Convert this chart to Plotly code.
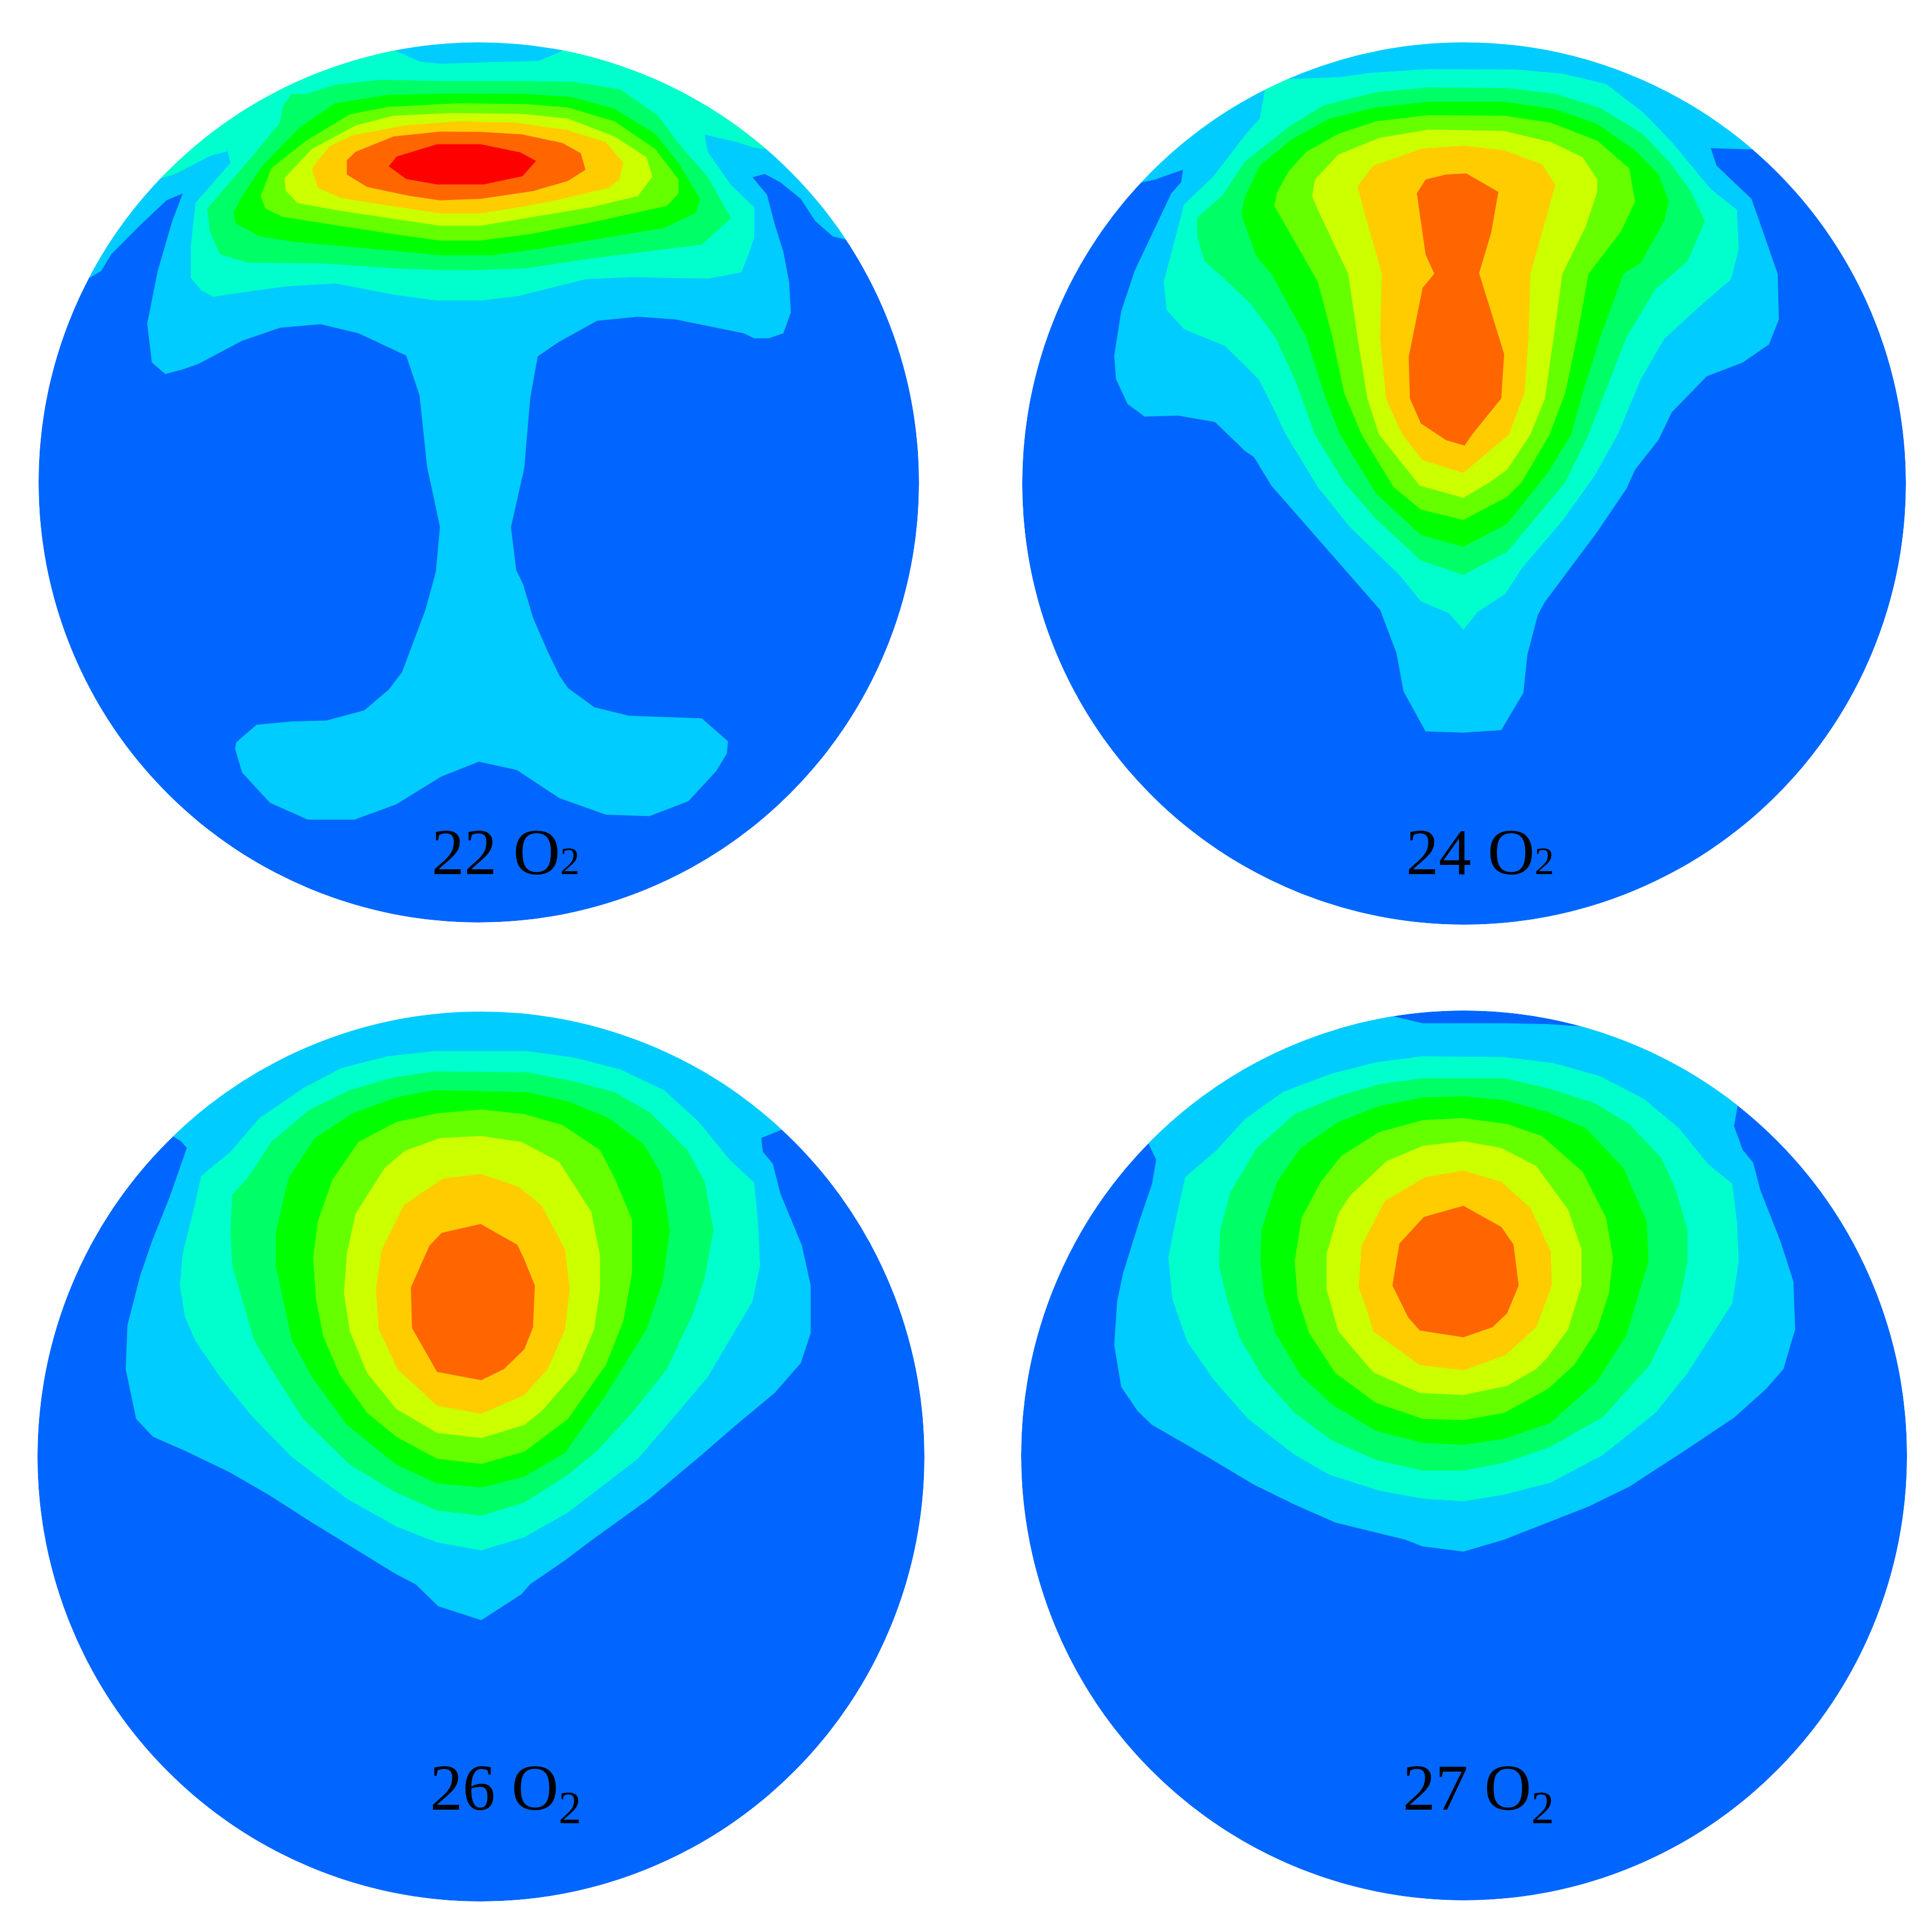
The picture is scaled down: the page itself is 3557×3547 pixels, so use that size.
import plotly.graph_objects as go

# contour outlines were read off zoomed crops of the source figure,
# each crop is (left, top, width, height) on the page and shown 1568 x 1568
CROP_A = (60, 60, 1680, 800)
CROP_B = (60, 800, 1680, 920)
CROP_C = (1880, 60, 1680, 800)
CROP_D = (1880, 800, 1680, 920)
CROP_E = (60, 1860, 1680, 1150)
CROP_F = (1880, 1860, 1680, 1150)

LEVEL_COLORS = ["#00CCFF", "#00FFCC", "#00FF66", "#00FF00", "#66FF00",
                "#CCFF00", "#FFCC00", "#FF6600", "#FF0000"]
BASE_COLOR = "#0066FF"

# disc extents per panel: left, top, right, bottom
DISCS = [(71, 78, 1692, 1698), (1882, 78, 3509, 1702),
         (69, 1862, 1702, 3500), (1880, 1860, 3511, 3498)]
RIM_SNAP = 8    # vertices this close to the rim were read on the rim
RIM_PUSH = 14   # pushed past it, the white ring trims them
RING_WIDTH = 60

LABELS = ["22 O<span style='font-size:72px'>2</span>",
          "24 O<span style='font-size:72px'>2</span>",
          "26 O<sub>2</sub>", "27 O<sub>2</sub>"]
LABEL_X = [931, 2725, 931, 2722]
LABEL_Y = [1579, 1579, 3301, 3301]

# 22 O2
p22_l1_top = [(88,925),(130,770),(175,640),(210,555),(240,490),(300,385),(365,275),(440,190),(520,125),(605,72),
              (690,42),(765,35),(850,42),(930,72),(1020,125),(1095,190),(1170,275),(1240,380),(1290,480),(1355,630),
              (1405,772),(1375,735),(1345,680),(1320,600),(1285,540),(1258,510),(1237,522),(1262,585),(1275,690),(1290,790),
              (1300,900),(1303,1010),(1290,1085),(1265,1103),(1240,1103),(1222,1085),(1105,1035),(1040,1025),(970,1040),
              (905,1115),(868,1168),(855,1320),(845,1568)]
p22_l1_stem = [(843,120),(822,290),(831,425),(843,470),(860,575),(885,680),(905,755),(920,795),(965,855),(1025,882),
               (1150,890),(1195,962),(1193,1000),(1175,1055),(1127,1150),(1060,1197),(985,1192),(905,1140),(832,1052),
               (767,1026),(702,1073),(625,1160),(553,1208),(473,1208),(408,1155),(360,1060),(348,985),(350,965),(385,910),
               (445,900),(505,897),(570,865),(612,800),(635,745),(675,550),(693,430),(700,290),(685,160)]
p22_l1_back = [(678,1568),(665,1310),(642,1165),(560,1085),(495,1052),(425,1065),(360,1112),(285,1195),(258,1215),
               (228,1232),(205,1190),(197,1050),(215,860),(240,680),(258,580),(230,605),(185,695),(135,800),(118,860)]
p22_l2 = [(205,560),(240,490),(300,385),(365,275),(440,190),(520,125),(605,72),(665,105),(700,112),(870,102),(930,72),
          (1020,125),(1095,190),(1170,275),(1240,380),(1272,450),(1240,415),(1210,395),(1155,368),(1160,430),(1200,550),
          (1240,630),(1240,740),(1230,800),(1218,865),(1160,888),(1030,882),(950,890),(835,950),(770,967),(695,967),
          (620,945),(520,905),(440,915),(385,930),(310,953),(290,930),(272,885),(272,770),(280,615),(340,470),(335,428),
          (305,445),(245,510)]
p22_l3 = [(445,222),(470,222),(520,188),(600,170),(700,175),(850,175),(930,178),(1010,205),(1075,300),(1110,400),
          (1160,520),(1200,670),(1150,765),(1055,790),(960,815),(850,850),(760,857),(700,857),(620,850),(500,833),
          (370,830),(322,800),(305,720),(300,635),(380,440),(425,325),(430,265)]
p22_l4 = [(520,255),(610,225),(730,220),(850,222),(925,232),(1000,275),(1070,365),(1110,470),(1147,600),(1140,650),
          (1085,705),(985,740),(870,780),(790,803),(700,803),(610,785),(450,755),(390,735),(350,690),(345,650),(360,590),
          (395,480),(460,340)]
p22_l5 = [(610,268),(730,255),(850,258),(920,270),(1000,320),(1070,420),(1110,530),(1110,580),(1090,625),(960,685),
          (860,725),(770,750),(700,750),(630,730),(520,695),(430,665),(400,635),(392,590),(410,490),(470,390),(545,295)]
p22_l6 = [(620,300),(720,290),(840,293),(920,310),(1000,375),(1055,450),(1065,520),(1040,590),(960,630),(860,665),
          (770,697),(700,697),(620,672),(520,640),(455,615),(435,570),(433,525),(480,420),(555,335)]
p22_l7 = [(640,335),(730,320),(830,325),(915,350),(985,395),(1015,470),(1008,530),(990,560),(900,605),(850,625),
          (770,652),(700,652),(630,630),(530,597),(490,560),(480,490),(510,410),(550,370)]
p22_l8 = [(620,375),(700,357),(770,358),(840,367),(910,398),(942,435),(950,495),(920,535),(860,572),(770,600),(700,605),
          (650,590),(575,557),(540,512),(540,460),(555,430)]
p22_l9 = [(695,403),(770,403),(838,432),(865,463),(842,518),(775,548),(695,548),(642,528),(612,482),(626,447)]

# 24 O2
p24_l1_top = [(195,572),(240,470),(290,375),(355,283),(430,195),(510,125),(590,75),(680,45),(760,37),(850,45),(930,75),
              (1010,125),(1085,190),(1165,280),(1235,385),(1268,445),(1230,420),(1185,417),(1195,480),(1255,600),
              (1275,720),(1300,870),(1302,1035),(1285,1125),(1240,1190),(1178,1240),(1118,1370),(1095,1470)]
p24_l1_low = [(1055,110),(1040,170),(990,305),(900,525),(888,565),(870,690),(863,810),(825,927),(760,935),(695,931),
              (657,805),(645,685),(617,550),(490,285),(430,160),(400,70)]
p24_l1_back = [(385,1510),(333,1405),(270,1382),(212,1385),(183,1340),(163,1250),(160,1165),(172,1005),(195,860),
               (258,580),(275,540),(278,495),(230,530)]
p24_l2_top = [(430,205),(515,162),(550,160),(600,145),(700,132),(850,133),(930,148),(1005,185),(1070,290),(1120,400),
              (1185,565),(1230,640),(1233,780),(1220,890),(1170,980),(1105,1105),(1065,1250)]
p24_l2_low = [(1025,0),(985,130),(930,270),(860,420),(832,500),(785,555),(760,612),(735,560),(687,523),(650,440),
              (565,290),(510,165),(455,0)]
p24_l2_back = [(430,1340),(408,1250),(350,1130),(280,1070),(250,1000),(245,900),(280,620),(330,520),(385,370),(410,310)]
p24_l3_top = [(302,668),(345,590),(385,465),(460,340),(520,262),(610,215),(700,198),(835,200),(920,222),(995,272),
              (1068,365),(1115,470),(1150,570),(1175,680),(1145,825),(1090,925),(1040,1100),(1005,1290)]
p24_l3_low = [(975,0),(935,150),(880,270),(835,368),(760,440),(687,395),(610,265),(555,150),(505,0)]
p24_l3_back = [(470,1250),(437,1100),(395,980),(340,870),(315,825),(303,740)]
p24_l4_top = [(378,655),(385,590),(410,480),(465,385),(530,310),(610,270),(700,250),(830,250),(915,275),(990,330),
              (1055,425),(1095,510),(1113,610),(1105,680),(1065,830),(1035,870),(995,1100),(965,1300)]
p24_l4_low = [(945,0),(905,120),(835,280),(760,352),(687,315),(610,185),(548,0)]
p24_l4_back = [(520,1300),(490,1100),(430,870),(405,810)]
p24_l5_top = [(435,625),(440,575),(460,500),(490,430),(545,365),(610,320),(700,298),(830,300),(910,325),(990,390),
              (1045,490),(1055,610),(1030,720),(975,870),(955,1100),(935,1300)]
p24_l5_low = [(908,0),(860,150),(835,195),(760,268),(687,235),(640,165),(585,0)]
p24_l5_back = [(555,1300),(535,1100),(510,900),(480,790)]
p24_l6_top = [(500,590),(505,530),(545,440),(615,380),(700,350),(830,355),(910,395),(965,450),(990,530),(990,575),
              (970,700),(930,870),(915,1100),(900,1320)]
p24_l6_low = [(875,0),(835,110),(805,150),(760,198),(685,160),(615,0)]
p24_l6_back = [(595,1320),(578,1100),(562,870),(510,640)]
p24_l7_top = [(578,555),(605,480),(690,418),(760,408),(830,425),(895,475),(918,550),(895,720),(875,870),(872,1100),
              (865,1300)]
p24_l7_low = [(838,0),(760,120),(690,80),(655,0)]
p24_l7_back = [(627,1320),(617,1100),(620,870),(590,650)]
p24_l8 = [(695,530),(730,512),(765,508),(820,575),(808,720),(787,868),(830,1160),(825,1320),(775,1450),(762,1490),
          (730,1470),(687,1410),(668,1320),(666,1170),(690,920),(710,870),(695,800),(680,580)]

# 26 O2
p26_l1 = [(238,318),(295,245),(365,170),(440,112),(520,65),(600,32),(690,10),(735,8),(800,8),(855,10),(940,32),(1020,65),
          (1100,112),(1180,178),(1248,245),(1292,305),(1252,320),(1255,355),(1272,385),(1285,460),(1322,590),(1337,690),
          (1337,810),(1320,885),(1275,960),(1205,1045),(1150,1115),(1060,1225),(960,1330),(915,1380),(855,1440),(840,1465),
          (771,1530),(697,1495),(658,1440),(625,1415),(480,1285),(405,1215),(340,1160),(262,1105),(207,1070),(178,1025),
          (160,900),(163,790),(185,665),(205,580),(235,470),(265,345),(255,328)]
p26_l2 = [(290,415),(340,355),(390,270),(465,195),(530,145),(610,115),(690,102),(850,102),(930,118),(1010,148),(1085,200),
          (1145,280),(1198,375),(1240,432),(1247,540),(1250,640),(1237,730),(1160,920),(1105,1015),(1040,1125),(920,1260),
          (845,1322),(771,1355),(695,1335),(625,1295),(540,1225),(445,1120),(375,1015),(325,925),(280,830),(262,770),
          (253,690),(258,610),(275,510)]
p26_l3 = [(343,462),(370,420),(410,330),(475,250),(545,200),(620,168),(690,153),(850,155),(930,178),(1000,205),(1060,255),
          (1125,350),(1155,430),(1170,550),(1155,670),(1135,760),(1090,900),(1030,1010),(970,1105),(920,1165),(845,1235),
          (771,1268),(695,1255),(625,1210),(545,1140),(465,1025),(410,900),(380,825),(343,640),(340,550)]
p26_l4 = [(418,555),(440,420),(485,320),(550,258),(625,218),(690,200),(850,205),(920,228),(990,270),(1050,335),(1080,410),
          (1095,550),(1083,680),(1055,800),(985,965),(915,1110),(845,1170),(771,1197),(695,1187),(625,1140),(540,1040),
          (480,920),(445,825),(418,640)]
p26_l5 = [(482,620),(490,530),(515,425),(560,330),(625,280),(695,258),(771,248),(845,260),(910,287),(975,350),(1000,420),
          (1030,525),(1030,660),(1015,780),(985,890),(920,1025),(845,1107),(771,1138),(695,1125),(625,1070),(575,1010),
          (528,915),(500,820),(487,725)]
p26_l6 = [(540,610),(555,510),(605,395),(640,352),(700,320),(771,315),(840,330),(905,380),(960,505),(975,615),(975,700),
          (965,800),(935,905),(875,1005),(845,1040),(771,1073),(695,1060),(625,1000),(575,910),(545,805),(535,710)]
p26_l7 = [(590,700),(600,600),(638,488),(705,422),(770,410),(835,442),(875,490),(915,600),(923,700),(915,800),(885,900),
          (845,965),(771,1012),(695,992),(627,900),(595,800)]
p26_l8 = [(650,695),(682,590),(703,558),(770,536),(833,588),(845,625),(863,690),(860,795),(845,850),(810,900),(771,928),
          (695,907),(652,797)]

# 27 O2
p27_l1 = [(220,325),(285,240),(350,175),(430,110),(510,65),(615,34),(690,32),(830,32),(905,34),(1010,65),(1090,115),
          (1165,175),(1225,235),(1225,290),(1240,350),(1258,382),(1270,450),(1305,580),(1327,680),(1330,800),(1310,900),
          (1280,950),(1225,1022),(1140,1105),(1045,1195),(975,1245),(830,1328),(760,1358),(690,1345),(660,1328),(540,1285),
          (470,1240),(400,1190),(320,1120),(225,1040),(200,1005),(172,945),(160,840),(165,730),(175,660),(205,520),(225,435),
          (232,375)]
p27_l2 = [(282,418),(335,352),(385,272),(450,205),(530,160),(610,130),(690,115),(830,117),(915,132),(995,165),(1070,222),
          (1130,295),(1180,385),(1222,435),(1230,530),(1233,630),(1222,735),(1145,910),(1090,1010),(1000,1115),(910,1185),
          (830,1215),(760,1232),(690,1225),(615,1205),(530,1165),(470,1115),(390,1025),(330,925),(285,830),(260,725),
          (253,620),(265,530)]
p27_l3 = [(342,550),(360,455),(405,345),(470,260),(545,215),(615,185),(690,170),(830,170),(905,195),(985,232),(1045,285),
          (1100,370),(1125,450),(1145,550),(1145,630),(1130,740),(1080,890),(1000,1020),(910,1095),(830,1135),(760,1155),
          (690,1155),(610,1128),(535,1080),(470,1010),(415,920),(375,820),(355,730),(340,640)]
p27_l4 = [(413,550),(440,430),(480,345),(545,280),(615,240),(690,218),(760,215),(830,225),(905,255),(970,295),(1035,395),
          (1075,530),(1078,630),(1040,815),(990,930),(910,1035),(830,1075),(760,1090),(690,1085),(610,1055),(535,990),
          (480,915),(437,810),(418,720),(411,630)]
p27_l5 = [(470,630),(482,520),(515,430),(550,365),(615,305),(690,275),(760,270),(835,285),(895,315),(965,405),(1005,520),
          (1017,620),(1010,710),(990,800),(950,890),(905,950),(830,1010),(760,1028),(690,1025),(610,985),(540,910),(495,810),
          (475,720)]
p27_l6 = [(525,610),(545,510),(565,465),(628,378),(690,340),(760,328),(825,345),(885,390),(940,500),(963,600),(963,690),
          (940,800),(905,870),(885,900),(835,942),(760,965),(685,960),(605,908),(545,805),(525,700)]
p27_l7 = [(580,695),(585,590),(625,478),(695,418),(760,402),(825,430),(875,495),(910,605),(912,690),(885,795),(832,865),
          (760,903),(685,890),(605,805),(595,755)]
p27_l8 = [(638,690),(650,585),(692,518),(760,490),(825,543),(846,587),(855,690),(835,760),(810,795),(760,820),(685,803),
          (665,770)]


def from_crop(points, crop):
    left, top, width, height = crop
    return [(left + px * width / 1568, top + py * height / 1568) for px, py in points]


def three_part(top, low, back, crop_top, crop_low):
    return from_crop(top, crop_top) + from_crop(low, crop_low) + from_crop(back, crop_top)


def snap_to_rim(outline, disc):
    """Push vertices read on the rim just outside it so no base colour shows there"""
    x0, y0, x1, y1 = disc
    cx, cy = (x0 + x1) / 2, (y0 + y1) / 2
    radius = (x1 - x0 + y1 - y0) / 4
    snapped = []
    for x, y in outline:
        dist = ((x - cx) ** 2 + (y - cy) ** 2) ** 0.5
        if radius - dist < RIM_SNAP:
            k = (radius + RIM_PUSH) / dist
            x, y = cx + (x - cx) * k, cy + (y - cy) * k
        snapped.append((x, y))
    return snapped


# every panel is a stack of filled levels, lowest first
panel_22 = [three_part(p22_l1_top, p22_l1_stem, p22_l1_back, CROP_A, CROP_B)]
panel_22 += [from_crop(p, CROP_A) for p in (p22_l2, p22_l3, p22_l4, p22_l5, p22_l6, p22_l7, p22_l8, p22_l9)]

panel_24 = [
    three_part(p24_l1_top, p24_l1_low, p24_l1_back, CROP_C, CROP_D),
    three_part(p24_l2_top, p24_l2_low, p24_l2_back, CROP_C, CROP_D),
    three_part(p24_l3_top, p24_l3_low, p24_l3_back, CROP_C, CROP_D),
    three_part(p24_l4_top, p24_l4_low, p24_l4_back, CROP_C, CROP_D),
    three_part(p24_l5_top, p24_l5_low, p24_l5_back, CROP_C, CROP_D),
    three_part(p24_l6_top, p24_l6_low, p24_l6_back, CROP_C, CROP_D),
    three_part(p24_l7_top, p24_l7_low, p24_l7_back, CROP_C, CROP_D),
    from_crop(p24_l8, CROP_C),
]
panel_26 = [from_crop(p, CROP_E) for p in (p26_l1, p26_l2, p26_l3, p26_l4, p26_l5, p26_l6, p26_l7, p26_l8)]
panel_27 = [from_crop(p, CROP_F) for p in (p27_l1, p27_l2, p27_l3, p27_l4, p27_l5, p27_l6, p27_l7, p27_l8)]

fig = go.Figure()

for panel, disc in zip((panel_22, panel_24, panel_26, panel_27), DISCS):
    for level, outline in enumerate(panel):
        outline = snap_to_rim(outline, disc)
        xs = [pt[0] for pt in outline]
        ys = [pt[1] for pt in outline]
        fig.add_trace(go.Scatter(
            x=xs + xs[:1],
            y=ys + ys[:1],
            mode="lines",
            fill="toself",
            fillcolor=LEVEL_COLORS[level],
            line=dict(width=0),
            hoverinfo="skip",
            showlegend=False,
        ))

for x0, y0, x1, y1 in DISCS:
    fig.add_shape(type="circle", x0=x0, y0=y0, x1=x1, y1=y1, xref="x", yref="y",
                  fillcolor=BASE_COLOR, line=dict(width=0), layer="below")
    # white ring on top trims the outlines to the disc
    half = RING_WIDTH / 2
    fig.add_shape(type="circle", x0=x0 - half, y0=y0 - half, x1=x1 + half, y1=y1 + half,
                  xref="x", yref="y", line=dict(width=RING_WIDTH, color="white"), layer="above")

fig.add_trace(go.Scatter(
    x=LABEL_X,
    y=LABEL_Y,
    mode="text",
    text=LABELS,
    textposition="middle center",
    textfont=dict(family="Liberation Serif", size=120, color="black"),
    hoverinfo="skip",
    showlegend=False,
))

# the page puts 8px of body margin before the plot, the ranges make up for it
fig.update_layout(
    width=3557,
    height=3547,
    margin=dict(l=0, r=0, t=0, b=0),
    paper_bgcolor="white",
    plot_bgcolor="white",
    xaxis=dict(range=[8, 3565], visible=False, fixedrange=True),
    yaxis=dict(range=[3555, 8], visible=False, fixedrange=True),
)

fig.write_html("out.html")
